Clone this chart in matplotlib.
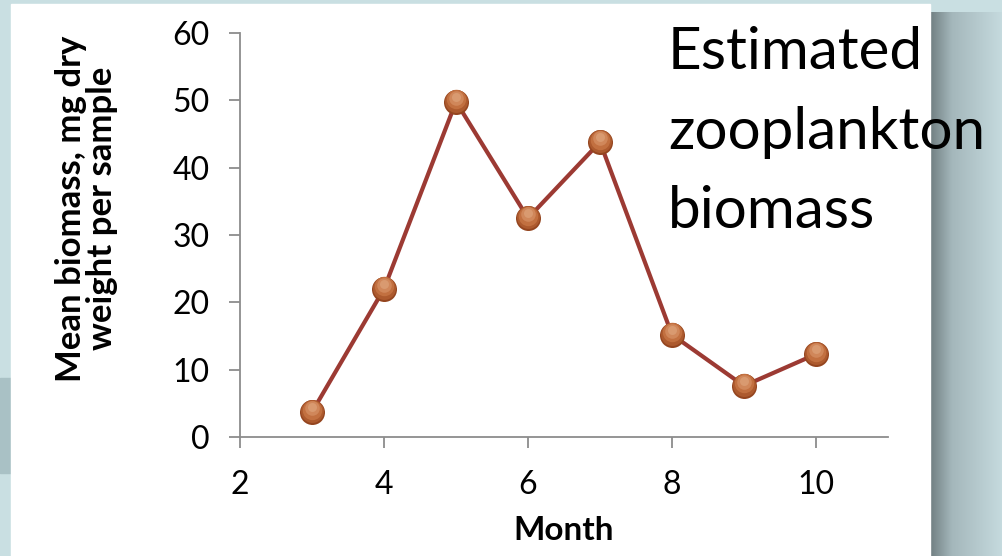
import matplotlib
matplotlib.use('Agg')
import matplotlib.pyplot as plt
import matplotlib.transforms as mtransforms
import numpy as np
from matplotlib.patches import Rectangle

plt.rcParams['font.family'] = ['Lato', 'DejaVu Sans']

# mean zooplankton biomass by month
months = [3, 4, 5, 6, 7, 8, 9, 10]
biomass = [3.7, 22.0, 49.8, 32.5, 43.8, 15.2, 7.6, 12.3]
x_ticks = [2, 4, 6, 8, 10]
y_ticks = [0, 10, 20, 30, 40, 50, 60]

W, H = 1003, 556
fig = plt.figure(figsize=(W / 100, H / 100), dpi=100)
fig.patch.set_facecolor('#c9dfe2')

# slide background: white panel with shaded strip on the right
bg = fig.add_axes([0, 0, 1, 1], zorder=-10)
bg.set_xlim(0, W)
bg.set_ylim(H, 0)
bg.axis('off')
bg.add_patch(Rectangle((0, 0), W, H, color='#c9dfe2'))
bg.add_patch(Rectangle((0, 378), 11, 95, color='#a9c1c5'))
shade = np.linspace(0, 1, 200)
cols = np.array([
    np.interp(shade, [0, 0.3, 1], [0x70, 0xa4, 0xc6]),
    np.interp(shade, [0, 0.3, 1], [0x7e, 0xb7, 0xdb]),
    np.interp(shade, [0, 0.3, 1], [0x81, 0xbb, 0xdf]),
]).T / 255
bg.imshow(cols[np.newaxis, :, :], extent=[930, W, H, 12], aspect='auto', zorder=1)
bg.add_patch(Rectangle((11, 4), 919, H - 4, color='white', zorder=2))

ax = fig.add_axes([240 / W, 1 - 437 / H, 648 / W, 404 / H])
ax.set_facecolor('none')
ax.plot(months, biomass, color='#9c3a33', linewidth=3, zorder=2)

# shaded ball markers: stacked discs, lighter ones shifted upward
layers = [(18, '#94451f', 0), (16.5, '#ad5a2e', 0.8), (14, '#c27040', 1.8),
          (10.5, '#d0875a', 2.8), (6.5, '#d99a70', 3.6)]
for i, (ms, c, dy) in enumerate(layers):
    tr = mtransforms.offset_copy(ax.transData, fig=fig, x=0, y=dy, units='points')
    ax.plot(months, biomass, 'o', markersize=ms, markerfacecolor=c,
            markeredgecolor='none', transform=tr, zorder=3 + i)

ax.set_xlim(2, 11)
ax.set_ylim(0, 60)
ax.set_xticks(x_ticks)
ax.set_yticks(y_ticks)
for s in ['top', 'right']:
    ax.spines[s].set_visible(False)
for s in ['left', 'bottom']:
    ax.spines[s].set_color('#8c8c8c')
    ax.spines[s].set_linewidth(1.3)
ax.tick_params(colors='#8c8c8c', length=8, width=1.3, labelsize=23,
               labelcolor='black')
ax.tick_params(axis='x', pad=16)
ax.tick_params(axis='y', pad=14)

ax.set_xlabel('Month', fontsize=24, fontweight='bold', va='center')
ax.xaxis.set_label_coords(0.5, -0.232)
ax.set_ylabel('Mean biomass, mg dry\nweight per sample', fontsize=25,
              fontweight='bold', linespacing=0.95, va='center')
ax.yaxis.set_label_coords(-0.237, 0.565)

fig.text(668 / W, 1 - 26 / H, 'Estimated\nzooplankton\nbiomass', fontsize=42,
         va='top', ha='left', linespacing=1.62)

fig.savefig('out.png', dpi=100)
